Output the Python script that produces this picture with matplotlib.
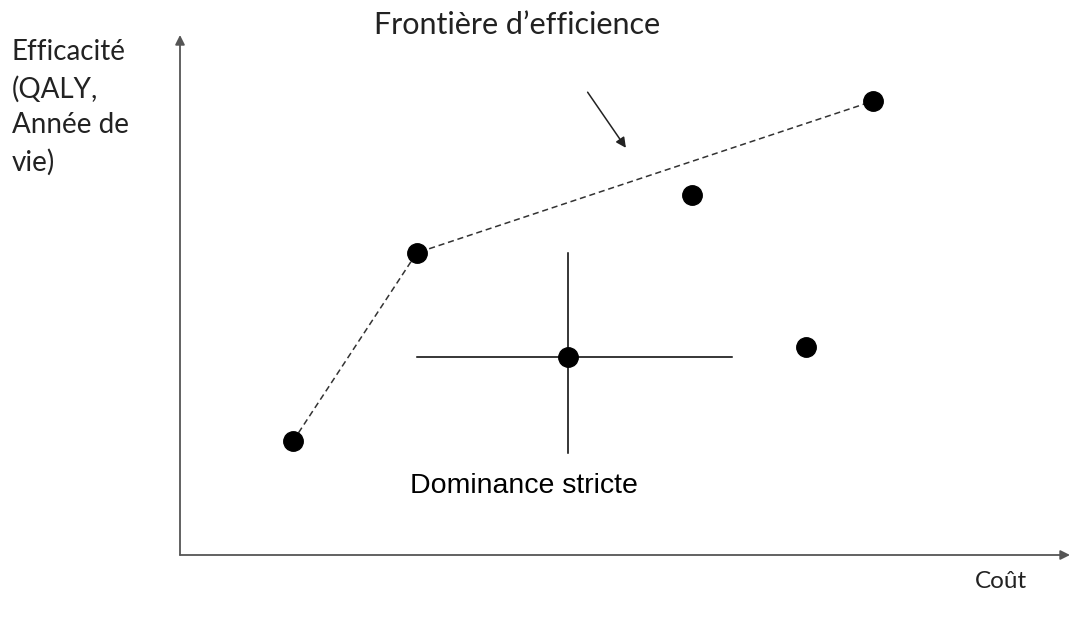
import matplotlib.pyplot as plt

# Options (cout, efficacite), unites arbitraires
frontier_cost = [1.27, 2.66, 7.79]
frontier_effect = [2.19, 5.81, 8.73]
other_cost = [5.75, 7.03]
other_effect = [6.92, 4.00]
dominance_cost = 4.36
dominance_effect = 3.81

fig = plt.figure(figsize=(10.73, 6.22), dpi=100)
ax = fig.add_axes([180 / 1073, 67 / 622, 890 / 1073, 520 / 622])
ax.set_xlim(0, 10)
ax.set_ylim(0, 10)
ax.axis('off')

# Axes avec fleches
axis_color = '#555555'
ax.annotate('', xy=(0, 1), xytext=(0, 0), xycoords='axes fraction',
            arrowprops=dict(arrowstyle='-|>', color=axis_color, lw=1.3,
                            mutation_scale=14, shrinkA=0, shrinkB=0))
ax.annotate('', xy=(1, 0), xytext=(0, 0), xycoords='axes fraction',
            arrowprops=dict(arrowstyle='-|>', color=axis_color, lw=1.3,
                            mutation_scale=14, shrinkA=0, shrinkB=0))

# Frontiere d'efficience
ax.plot(frontier_cost, frontier_effect, color='#333333', lw=1.1,
        linestyle=(0, (4, 2.5)), zorder=2)
ax.plot(frontier_cost, frontier_effect, 'o', color='black', ms=14, zorder=3)
ax.plot(other_cost, other_effect, 'o', color='black', ms=14, zorder=3)

# Dominance stricte (croix)
ax.plot([2.66, 6.20], [dominance_effect, dominance_effect], color='black', lw=1.1)
ax.plot([dominance_cost, dominance_cost], [1.96, 5.81], color='black', lw=1.1)
ax.plot([dominance_cost], [dominance_effect], 'o', color='black', ms=14, zorder=3)

# Fleche vers la frontiere
ax.annotate('', xy=(5.01, 7.83), xytext=(4.58, 8.90),
            arrowprops=dict(arrowstyle='-|>', color='#222222', lw=1.1,
                            mutation_scale=15, shrinkA=0, shrinkB=0))

# Textes
label_font = ['Lato', 'DejaVu Sans']
fig.text(517 / 1073, 1 - 25 / 622, 'Frontière d\u2019efficience', ha='center', va='center',
         fontsize=22, family=label_font, color='#222222')
fig.text(12 / 1073, 1 - 39 / 622,
         'Efficacité\n(QALY,\nAnnée de\nvie)', ha='left', va='top',
         fontsize=20, family=label_font, color='#222222', linespacing=1.48)
fig.text(1001 / 1073, 1 - 581 / 622, 'Coût', ha='center', va='center',
         fontsize=17.5, family=label_font, color='#222222')
fig.text(524 / 1073, 1 - 486 / 622, 'Dominance stricte', ha='center', va='center',
         fontsize=20.5, family=['Liberation Sans', 'DejaVu Sans'], color='black')

fig.savefig('out.png', dpi=100, facecolor='white')
